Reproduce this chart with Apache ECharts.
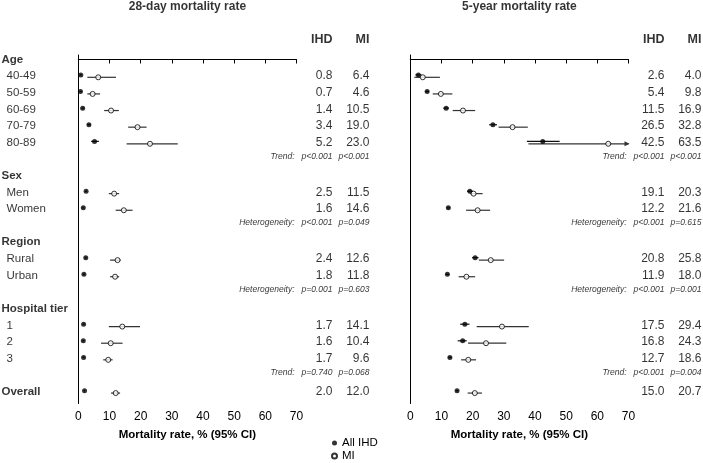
<!DOCTYPE html>
<html>
<head>
<meta charset="utf-8">
<script src="https://cdn.jsdelivr.net/npm/echarts@6/dist/echarts.min.js"></script>
<style>
  html, body { margin: 0; padding: 0; background: #fff; }
  #chart { width: 703px; height: 463px; }
</style>
</head>
<body>
<div id="chart"></div>
<script>
// rows of the forest plot, top to bottom ('' = spacer row)
const rows = ['Age', '40-49', '50-59', '60-69', '70-79', '80-89', '',
  'Sex', 'Men', 'Women', '',
  'Region', 'Rural', 'Urban', '',
  'Hospital tier', '1', '2', '3', '',
  'Overall'];
const headerRows = ['Age', 'Sex', 'Region', 'Hospital tier', 'Overall'];
const groups = ['40-49', '50-59', '60-69', '70-79', '80-89', 'Men', 'Women', 'Rural', 'Urban', '1', '2', '3', 'Overall'];

// 28-day mortality
const ihd28 = [0.8, 0.7, 1.4, 3.4, 5.2, 2.5, 1.6, 2.4, 1.8, 1.7, 1.6, 1.7, 2.0];
const ihd28Low = [0.5, 0.4, 1.1, 2.9, 4.1, 2.2, 1.3, 2.1, 1.5, 1.4, 1.3, 1.4, 1.8];
const ihd28High = [1.2, 1.1, 1.8, 4.0, 6.6, 2.8, 1.9, 2.7, 2.1, 2.0, 1.9, 2.0, 2.2];
const mi28 = [6.4, 4.6, 10.5, 19.0, 23.0, 11.5, 14.6, 12.6, 11.8, 14.1, 10.4, 9.6, 12.0];
const mi28Low = [2.9, 2.9, 8.3, 16.0, 15.5, 9.8, 12.0, 10.2, 10.2, 9.8, 7.3, 8.0, 10.5];
const mi28High = [12.1, 7.0, 13.0, 21.9, 31.9, 13.1, 17.4, 13.6, 13.1, 19.8, 14.2, 11.0, 13.4];

// 5-year mortality
const ihd5 = [2.6, 5.4, 11.5, 26.5, 42.5, 19.1, 12.2, 20.8, 11.9, 17.5, 16.8, 12.7, 15.0];
const ihd5Low = [1.6, 4.8, 10.6, 25.3, 37.4, 18.2, 11.7, 19.8, 11.4, 16.0, 15.2, 12.2, 14.6];
const ihd5High = [3.6, 6.0, 12.4, 27.8, 47.9, 20.1, 12.7, 21.9, 12.4, 19.0, 18.1, 13.2, 15.4];
const mi5 = [4.0, 9.8, 16.9, 32.8, 63.5, 20.3, 21.6, 25.8, 18.0, 29.4, 24.3, 18.6, 20.7];
const mi5Low = [1.3, 7.2, 13.6, 28.3, 37.9, 19.2, 17.9, 22.0, 15.5, 21.3, 18.5, 16.3, 18.4];
const mi5High = [9.5, 13.5, 20.8, 37.7, 89.0, 23.2, 25.6, 30.1, 20.8, 38.0, 30.8, 21.1, 23.0];

// p-values, printed under the last row of each block
const pLabels = ['Trend:', 'Heterogeneity:', 'Heterogeneity:', 'Trend:'];
const pAfter = ['80-89', 'Women', 'Urban', '3'];
const p28Ihd = ['p<0.001', 'p<0.001', 'p=0.001', 'p=0.740'];
const p28Mi = ['p<0.001', 'p=0.049', 'p=0.603', 'p=0.068'];
const p5Ihd = ['p<0.001', 'p<0.001', 'p<0.001', 'p<0.001'];
const p5Mi = ['p<0.001', 'p=0.615', 'p=0.001', 'p=0.004'];

const xMax = 70;
const xStep = 10;

// layout
const FONT = '"Liberation Sans", Arial, sans-serif';
const W = 703, H = 463;
const PLOT_TOP = 55, PLOT_H = 348.5, PLOT_W = 218.2;
const ROW_MIN = -0.27, ROW_MAX = 20.7;
const ROW_PX = PLOT_H / (ROW_MAX - ROW_MIN);
const HEAD_ROW = -1.17, TITLE_ROW = -3.15, P_GAP = 0.83;
const DOT_SHIFT = 1.2;

const panels = [
  { title: '28-day mortality rate', left: 78.3, colIhd: 333, colMi: 370, pLabelX: 295,
    ihd: ihd28, ihdLow: ihd28Low, ihdHigh: ihd28High, mi: mi28, miLow: mi28Low, miHigh: mi28High,
    pIhd: p28Ihd, pMi: p28Mi },
  { title: '5-year mortality rate', left: 410.3, colIhd: 665, colMi: 702, pLabelX: 627,
    ihd: ihd5, ihdLow: ihd5Low, ihdHigh: ihd5High, mi: mi5, miLow: mi5Low, miHigh: mi5High,
    pIhd: p5Ihd, pMi: p5Mi }
];

const rowOf = (name) => rows.indexOf(name);

function ciSeries(idx, lo, hi, shift, color) {
  return {
    type: 'custom',
    xAxisIndex: idx,
    yAxisIndex: idx,
    silent: true,
    z: 1,
    data: groups.map((g, i) => [lo[i], hi[i], rowOf(g)]),
    encode: { x: [0, 1], y: 2 },
    renderItem: (params, api) => {
      const hiVal = api.value(1);
      const a = api.coord([api.value(0), api.value(2)]);
      const b = api.coord([Math.min(hiVal, xMax), api.value(2)]);
      const y = a[1] + shift;
      const children = [{
        type: 'line',
        shape: { x1: a[0], y1: y, x2: b[0], y2: y },
        style: { stroke: color, lineWidth: 1.2 }
      }];
      if (hiVal > xMax) {
        children.push({
          type: 'polygon',
          shape: { points: [[b[0] + 1, y], [b[0] - 4, y - 2.5], [b[0] - 4, y + 2.5]] },
          style: { fill: color }
        });
      }
      return { type: 'group', children: children };
    }
  };
}

function textItem(x, row, text, align, style) {
  const pos = align === 'left' ? 'right' : (align === 'right' ? 'left' : 'inside');
  return {
    value: [x, row],
    label: Object.assign({
      show: true, position: pos, distance: 0, formatter: text,
      color: '#000', fontFamily: FONT, fontSize: 12
    }, style || {})
  };
}

// all text lives on a full-page helper grid that shares the row scale
const texts = [];
rows.forEach((r, i) => {
  if (!r) return;
  if (headerRows.includes(r)) {
    texts.push(textItem(1, i, r, 'left', { fontWeight: 'bold', fontSize: 11.5 }));
  } else {
    texts.push(textItem(6, i, r, 'left', { fontSize: 11.5 }));
  }
});
panels.forEach((p) => {
  texts.push(textItem(p.left + PLOT_W / 2, TITLE_ROW, p.title, 'center', { fontWeight: 'bold', fontSize: 12 }));
  texts.push(textItem(p.colIhd, HEAD_ROW, 'IHD', 'right', { fontWeight: 'bold', fontSize: 12.5 }));
  texts.push(textItem(p.colMi, HEAD_ROW, 'MI', 'right', { fontWeight: 'bold', fontSize: 12.5 }));
  groups.forEach((g, i) => {
    texts.push(textItem(p.colIhd, rowOf(g), p.ihd[i].toFixed(1), 'right'));
    texts.push(textItem(p.colMi, rowOf(g), p.mi[i].toFixed(1), 'right'));
  });
  pLabels.forEach((lab, k) => {
    const r = rowOf(pAfter[k]) + P_GAP;
    const st = { fontStyle: 'italic', fontSize: 8.5 };
    texts.push(textItem(p.pLabelX, r, lab, 'right', st));
    texts.push(textItem(p.colIhd, r, p.pIhd[k], 'right', st));
    texts.push(textItem(p.colMi, r, p.pMi[k], 'right', st));
  });
});

const textRowMin = ROW_MIN - PLOT_TOP / ROW_PX;
const textRowMax = ROW_MAX + (H - PLOT_TOP - PLOT_H) / ROW_PX;

const grids = [], xAxes = [], yAxes = [], series = [];
panels.forEach((p, idx) => {
  grids.push({ left: p.left, top: PLOT_TOP, width: PLOT_W, height: PLOT_H });
  xAxes.push({
    type: 'value', gridIndex: idx, min: 0, max: xMax, interval: xStep,
    name: 'Mortality rate, % (95% CI)', nameLocation: 'middle', nameGap: 25,
    nameTextStyle: { fontWeight: 'bold', fontSize: 11.5, color: '#000', fontFamily: FONT },
    axisLine: { lineStyle: { color: '#000', width: 1 } },
    axisTick: { show: true, length: 4, lineStyle: { color: '#000' } },
    axisLabel: { fontSize: 12, color: '#000', margin: 7, fontFamily: FONT },
    splitLine: { show: false }
  });
  yAxes.push({
    type: 'value', gridIndex: idx, inverse: true, min: ROW_MIN, max: ROW_MAX,
    axisLine: { show: true, onZero: false, lineStyle: { color: '#000', width: 1 } },
    axisTick: { show: false }, axisLabel: { show: false }, splitLine: { show: false }
  });
  series.push(ciSeries(idx, p.ihdLow, p.ihdHigh, -DOT_SHIFT, '#111'));
  series.push(ciSeries(idx, p.miLow, p.miHigh, DOT_SHIFT, '#333'));
  series.push({
    type: 'scatter', name: 'All IHD', xAxisIndex: idx, yAxisIndex: idx, z: 3,
    symbol: 'circle', symbolSize: 5, symbolOffset: [0, -DOT_SHIFT],
    itemStyle: { color: '#000' },
    data: groups.map((g, i) => [p.ihd[i], rowOf(g)])
  });
  series.push({
    type: 'scatter', name: 'MI', xAxisIndex: idx, yAxisIndex: idx, z: 4,
    symbol: 'circle', symbolSize: 5, symbolOffset: [0, DOT_SHIFT],
    itemStyle: { color: '#fff', borderColor: '#000', borderWidth: 1 },
    data: groups.map((g, i) => [p.mi[i], rowOf(g)])
  });
});

grids.push({ left: 0, top: 0, width: W, height: H });
xAxes.push({ type: 'value', gridIndex: 2, min: 0, max: W, show: false });
yAxes.push({ type: 'value', gridIndex: 2, inverse: true, min: textRowMin, max: textRowMax, show: false });
series.push({
  type: 'scatter', xAxisIndex: 2, yAxisIndex: 2, silent: true, clip: false,
  symbolSize: 1, itemStyle: { color: 'transparent' },
  emphasis: { disabled: true },
  data: texts
});

const chart = echarts.init(document.getElementById('chart'));
chart.setOption({
  animation: false,
  backgroundColor: '#fff',
  grid: grids,
  xAxis: xAxes,
  yAxis: yAxes,
  legend: {
    data: ['All IHD', 'MI'],
    orient: 'vertical', left: 331, top: 437, padding: 0,
    itemWidth: 5, itemHeight: 5, itemGap: 1,
    textStyle: { fontSize: 11.5, color: '#000', fontFamily: FONT, lineHeight: 11 }
  },
  series: series
});
</script>
</body>
</html>
